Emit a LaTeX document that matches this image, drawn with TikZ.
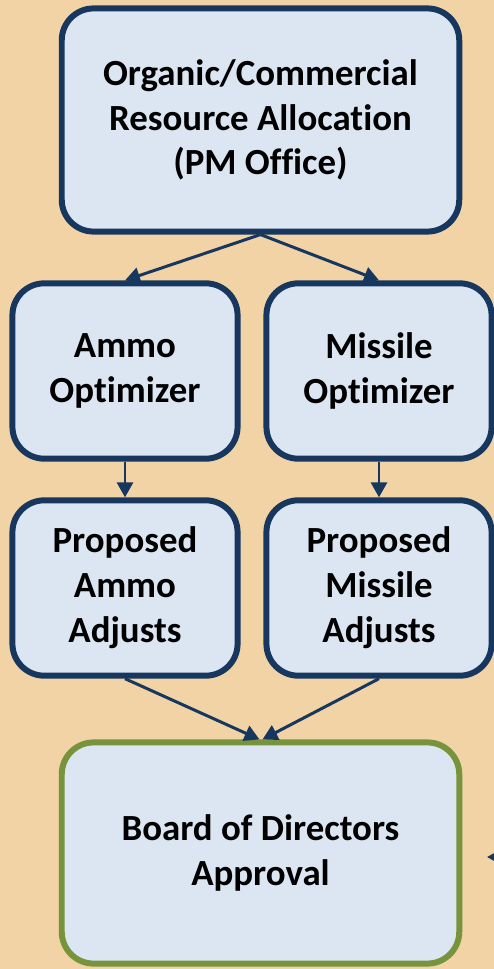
\documentclass[tikz,border=0pt]{standalone}
\usepackage{fontspec}
\setmainfont{Carlito}[Ligatures=NoCommon]
\usetikzlibrary{arrows.meta}

\definecolor{navy}{HTML}{17375E}
\definecolor{boxfill}{HTML}{DCE6F2}
\definecolor{olive}{HTML}{77933C}
\definecolor{sand}{HTML}{F1D3A6}

\tikzset{%
  every box/.style={
    rectangle,
    rounded corners=32,
    draw=navy,
    fill=boxfill,
    line width=6,
    align=center,
    font=\fontsize{37}{45}\selectfont\bfseries,
    minimum width=226,
    minimum height=176
  },
  box wide/.style={
    minimum width=399,
    minimum height=224
  },
  box board/.style={
    draw=olive,
    minimum width=399,
    minimum height=222
  },
  link/.style={
    navy,
    line width=3,
    -{Triangle[length=15,width=16]}
  },
}

\begin{document}
\begin{tikzpicture}[x=1bp, y=-1bp]
\useasboundingbox (0,0) rectangle (494,969);
\clip (0,0) rectangle (494,969);
\fill [sand] (0,0) rectangle (494,969);

\node [every box, box wide] (alloc) at (260.5,120)
  {Organic/Commercial\\Resource Allocation\\(PM Office)};

\foreach \m/\l/\x in {ammo/Ammo/125, missile/Missile/379}
  \node [every box] (\m-opt) at (\x,371) {\l\\Optimizer};

\foreach \m/\l/\x in {ammo/Ammo/125, missile/Missile/379}
  \node [every box] (\m-adj) at (\x,588) {Proposed\\\l\\Adjusts};

\node [every box, box board] (board) at (260.5,853)
  {Board of Directors\\Approval};

\coordinate (side-in) at (530,857);
\coordinate (side-tip) at (487,857);

\foreach \m in {ammo, missile}
  \draw [link] (alloc.south) -- (\m-opt.north);

\foreach \m in {ammo, missile}
  \draw [link] (\m-opt) -- (\m-adj);

\draw [link] (ammo-adj.south) -- ([xshift=-1]board.north);
\draw [link] (missile-adj.south) -- ([xshift=2]board.north);

\draw [link] (side-in) -- (side-tip);

\end{tikzpicture}
\end{document}
